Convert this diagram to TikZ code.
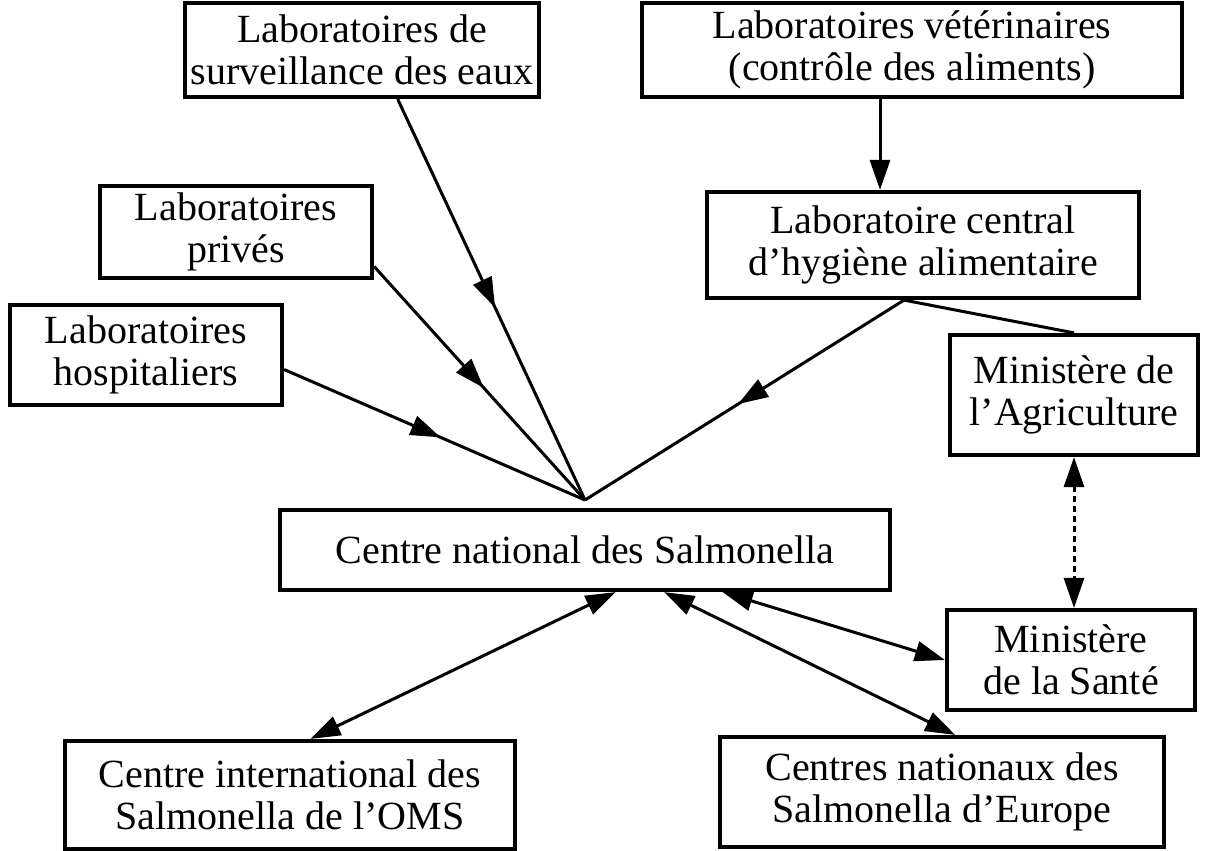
\documentclass[tikz,border=0pt]{standalone}
\usepackage{fontspec}
\setmainfont{Liberation Serif}
\usetikzlibrary{arrows.meta,decorations.markings,calc}
\begin{document}
\begin{tikzpicture}[x=0.5pt, y=-0.5pt, draw=black, text=black,
    font=\fontsize{20}{21}\selectfont,
    >={Triangle[length=15pt,width=10pt]},
    labbox/.style={draw, line width=2.1pt, align=center, inner sep=0pt},
    link/.style={line width=1.5pt},
    midarrow/.style={link, postaction={decorate}, decoration={markings,
        mark=at position 0.52 with {\arrow{>}}}}]
    \useasboundingbox (0,0) rectangle (1227,851);

    % les laboratoires
    \node (eaux) [labbox, minimum width=177pt, minimum height=47pt] at (362,50) {Laboratoires de\\surveillance des eaux};
    \node (veto) [labbox, minimum width=270pt, minimum height=47pt] at (912,50) {Laboratoires vétérinaires\\(contrôle des aliments)};
    \node (central) [labbox, minimum width=216pt, minimum height=53pt] at (923,245) {Laboratoire central\\d'hygiène alimentaire};
    \node (prives) [labbox, minimum width=136pt, minimum height=46pt] at (236,232) {Laboratoires\\privés};
    \node (hosp) [labbox, minimum width=136pt, minimum height=50pt] at (146,355) {Laboratoires\\hospitaliers};

    % les ministeres
    \node (agri) [labbox, minimum width=124pt, minimum height=60pt] at (1074,395) {Ministère de\\l'Agriculture};
    \node (sante) [labbox, minimum width=124pt, minimum height=50pt] at (1071,660) {Ministère\\de la Santé};

    % les centres
    \node (cns) [labbox, minimum width=305pt, minimum height=40pt] at (585,550) {Centre national des Salmonella};
    \node (oms) [labbox, minimum width=225pt, minimum height=54pt] at (290,795) {Centre international des\\Salmonella de l'OMS};
    \node (europe) [labbox, minimum width=222pt, minimum height=55pt] at (942,792) {Centres nationaux des\\Salmonella d'Europe};

    \coordinate (hub) at (585,500);
    \coordinate (xveto) at (880,0);

    \draw[midarrow] (eaux.306) -- (hub);
    \draw[midarrow] (prives.-14) -- (hub);
    \draw[midarrow] (hosp.-6) -- (hub);
    \draw[midarrow] (central.251) -- (hub);
    \draw[link] (central.251) -- (agri.north);
    \draw[link, ->] (veto.south -| xveto) -- (central.north -| xveto);
    \draw[link, densely dashed, <->] (agri.south) -- (agri.south |- sante.north);

    \draw[link, <->] (cns.-54) -- (oms.70);
    \draw[link, <->] (cns.-28) -- (europe.77);
    \draw[link, <->] (cns.-17) -- (sante.west);
\end{tikzpicture}
\end{document}
